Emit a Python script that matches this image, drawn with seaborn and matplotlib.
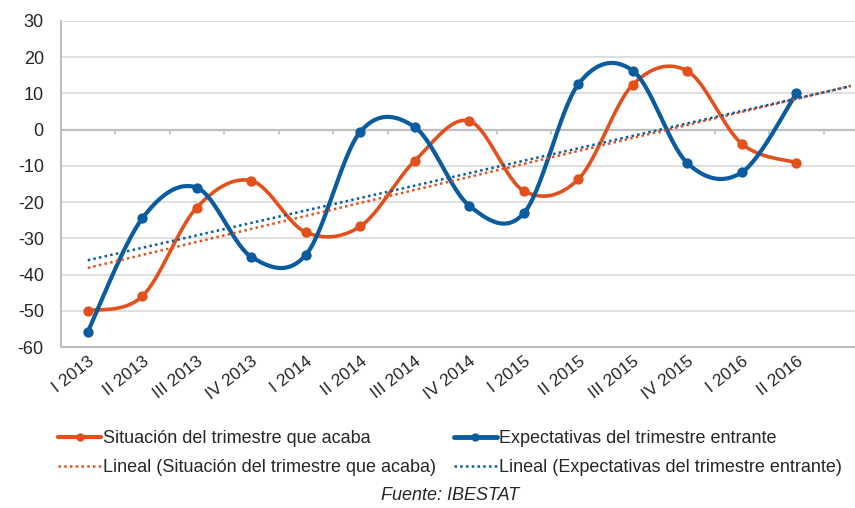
import numpy as np
import pandas as pd
import matplotlib
matplotlib.use('Agg')
import matplotlib.pyplot as plt
import seaborn as sns
from matplotlib.lines import Line2D

quarters = ['I 2013', 'II 2013', 'III 2013', 'IV 2013', 'I 2014', 'II 2014', 'III 2014',
            'IV 2014', 'I 2015', 'II 2015', 'III 2015', 'IV 2015', 'I 2016', 'II 2016']
situacion = [-50.0, -46.0, -21.5, -14.1, -28.3, -26.7, -8.6,
             2.4, -16.9, -13.7, 12.4, 16.2, -3.9, -9.1]
expectativas = [-55.8, -24.5, -16.0, -35.1, -34.6, -0.6, 0.7,
                -21.0, -23.1, 12.5, 16.3, -9.2, -11.8, 10.0]

lab_sit = 'Situación del trimestre que acaba'
lab_exp = 'Expectativas del trimestre entrante'
c_sit = '#E2501C'
c_exp = '#0B5C9E'

sns.set_theme(style='white')
plt.rcParams['font.family'] = ['Liberation Sans', 'DejaVu Sans']
plt.rcParams['axes.unicode_minus'] = False


def smooth(y, n=30):
    # Excel-style smoothed line (Bezier with 1/6 control points)
    y = np.asarray(y, float)
    x = np.arange(len(y), dtype=float)
    pts = np.column_stack([x, y])
    ext = np.vstack([pts[0], pts, pts[-1]])
    out = []
    t = np.linspace(0, 1, n, endpoint=False)[:, None]
    for i in range(len(pts) - 1):
        p0, p1, p2, p3 = ext[i], ext[i + 1], ext[i + 2], ext[i + 3]
        c1 = p1 + (p2 - p0) / 6
        c2 = p2 - (p3 - p1) / 6
        seg = ((1 - t) ** 3) * p1 + 3 * ((1 - t) ** 2) * t * c1 + 3 * (1 - t) * t ** 2 * c2 + t ** 3 * p2
        out.append(seg)
    out.append(pts[-1][None, :])
    out = np.vstack(out)
    return out[:, 0], out[:, 1]


fig = plt.figure(figsize=(8.55, 5.08), dpi=100)
ax = fig.add_axes([60.5 / 855, 1 - 347 / 508, 817.5 / 855, 326 / 508])

idx = np.arange(len(quarters))
ext_x = np.arange(len(quarters) + 1)

for vals, col, lw in [(situacion, c_sit, 2.6), (expectativas, c_exp, 3.0)]:
    sx, sy = smooth(vals)
    sm = pd.DataFrame({'x': sx, 'y': sy})
    sns.lineplot(data=sm, x='x', y='y', ax=ax, color=col, lw=lw, sort=False, estimator=None)
    pts = pd.DataFrame({'x': idx, 'y': vals})
    sns.scatterplot(data=pts, x='x', y='y', ax=ax, color=col, s=55, edgecolor=col, linewidth=0, zorder=3)

# linear trend, forecast one period forward
for vals, col in [(situacion, c_sit), (expectativas, c_exp)]:
    k, b = np.polyfit(idx, vals, 1)
    tr = pd.DataFrame({'x': ext_x, 'y': k * ext_x + b})
    sns.lineplot(data=tr, x='x', y='y', ax=ax, color=col, lw=1.8, linestyle=(0, (1, 1.3)))

ax.set_xlim(-0.5, 14.5)
ax.set_ylim(-60, 30)
ax.set_yticks(range(-60, 31, 10))
ax.yaxis.grid(True, color='#D9D9D9', lw=1.2)
ax.set_axisbelow(True)
ax.axhline(0, color='#BFBFBF', lw=1.6, zorder=1)
for b in np.arange(-0.5, 15, 1):
    ax.plot([b, b], [0, -1.3], color='#BFBFBF', lw=1.2, zorder=1)

for s in ['top', 'right']:
    ax.spines[s].set_visible(False)
for s in ['left', 'bottom']:
    ax.spines[s].set_color('#BFBFBF')
    ax.spines[s].set_linewidth(1.5)

ax.set_xticks(idx)
ax.set_xticklabels(quarters, rotation=38, ha='right', va='top', rotation_mode='anchor', fontsize=12.5)
ax.tick_params(axis='x', length=0, pad=5)
ax.tick_params(axis='y', length=0, labelsize=13, pad=12)
ax.set_xlabel('')
ax.set_ylabel('')

handles = [
    Line2D([], [], color=c_sit, lw=3, marker='o', ms=5),
    Line2D([], [], color=c_sit, lw=1.8, linestyle=(0, (1, 1.3))),
    Line2D([], [], color=c_exp, lw=3.5, marker='o', ms=5),
    Line2D([], [], color=c_exp, lw=1.8, linestyle=(0, (1, 1.3))),
]
labels = [lab_sit, 'Lineal (' + lab_sit + ')', lab_exp, 'Lineal (' + lab_exp + ')']
fig.legend(handles, labels, ncol=2, loc='center', bbox_to_anchor=(450 / 855, 1 - 453 / 508),
           frameon=False, fontsize=13, handlelength=2.35, handletextpad=0.12,
           columnspacing=1.0, labelspacing=0.65, borderaxespad=0, borderpad=0)

fig.text(450 / 855, 1 - 496 / 508, 'Fuente: IBESTAT', ha='center', va='center',
         fontsize=13, style='italic')

fig.savefig('out.png', dpi=100)
